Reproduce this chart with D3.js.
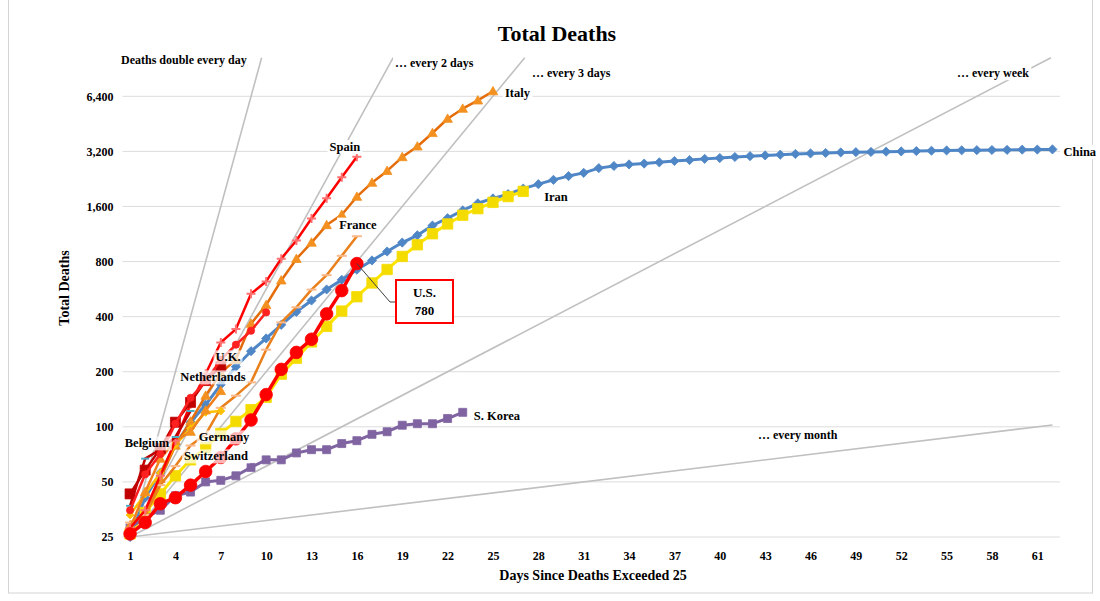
<!DOCTYPE html>
<html>
<head>
<meta charset="utf-8">
<script src="https://cdn.jsdelivr.net/npm/d3@7"></script>
<style>
  body { margin: 0; background: #fff; }
  text { font-family: "Liberation Serif", "Times New Roman", serif; font-weight: bold; fill: #000; }
</style>
</head>
<body>
<svg id="chart" width="1100" height="601"></svg>
<script>
// cumulative deaths, day 1 = first day above 25
const china = [25, 41, 56, 80, 106, 132, 170, 213, 259, 304, 361, 425, 490, 563, 636, 722, 811, 908, 1016, 1113,
  1259, 1380, 1523, 1665, 1770, 1868, 2004, 2118, 2236, 2345, 2442, 2592, 2663, 2715, 2744, 2788, 2835, 2870, 2912, 2943,
  2981, 3013, 3042, 3070, 3097, 3119, 3136, 3158, 3169, 3176, 3189, 3199, 3213, 3226, 3237, 3245, 3248, 3255, 3261, 3270,
  3274, 3281];
const iran = [26, 34, 43, 54, 66, 77, 92, 107, 124, 145, 194, 237, 291, 354, 429, 514, 611, 724, 853, 988,
  1135, 1284, 1433, 1556, 1685, 1812, 1934];
const korea = [28, 32, 35, 42, 44, 50, 51, 54, 60, 66, 66, 72, 75, 75, 81, 84, 91, 94, 102, 104, 104, 111, 120];
const italy = [29, 34, 52, 79, 107, 148, 197, 233, 366, 463, 631, 827, 1016, 1266, 1441, 1809, 2158, 2503, 2978, 3405,
  4032, 4825, 5476, 6077, 6820];
const france = [30, 33, 48, 61, 79, 91, 127, 148, 175, 264, 372, 450, 562, 674, 860, 1100];
const spain = [28, 35, 54, 84, 133, 195, 289, 342, 533, 623, 830, 1043, 1375, 1772, 2311, 2991];
const germany = [28, 44, 67, 84, 94, 123, 157];
const switzerland = [33, 43, 56, 80, 98, 120, 122];
const belgium = [37, 67, 75, 88, 122];
const netherlands = [43, 58, 76, 106, 136, 179, 213];
const uk = [35, 55, 71, 104, 144, 177, 233, 281, 335, 422];
const us = [26, 30, 38, 41, 48, 57, 68, 86, 109, 150, 206, 255, 301, 414, 555, 780];

const xTicks = [1, 4, 7, 10, 13, 16, 19, 22, 25, 28, 31, 34, 37, 40, 43, 46, 49, 52, 55, 58, 61];
const yTicks = [25, 50, 100, 200, 400, 800, 1600, 3200, 6400];

// doubling-time guide lines
const guides = [
  { label: 'Deaths double every day', period: 1 },
  { label: '\u2026 every 2 days', period: 2 },
  { label: '\u2026 every 3 days', period: 3 },
  { label: '\u2026 every week', period: 7 },
  { label: '\u2026 every month', period: 30 }
];
const guideLabelPos = [[121, 60], [395, 63], [532, 73], [957, 73], [758, 435]];

const svg = d3.select('#chart');

const x = d3.scaleLinear().domain([0.5, 62.5]).range([122.5, 1060]);
const y = d3.scaleLog().base(2).domain([25, 10400]).range([537, 57.7]);
const lastDay = 62;

// frame
svg.append('rect').attr('x', 8.5).attr('y', -1).attr('width', 1084).attr('height', 594)
  .attr('fill', 'none').attr('stroke', '#d4d4d4');

// title
svg.append('text').attr('x', 557).attr('y', 41).attr('text-anchor', 'middle')
  .style('font-size', '22px').text('Total Deaths');

// gridlines
svg.append('g').selectAll('line').data(yTicks).join('line')
  .attr('x1', x.range()[0]).attr('x2', x.range()[1])
  .attr('y1', d => y(d)).attr('y2', d => y(d))
  .attr('stroke', '#dcdcdc').attr('stroke-width', 1);

// axes
const yAxis = svg.append('g').attr('transform', `translate(${x.range()[0]},0)`)
  .call(d3.axisLeft(y).tickValues(yTicks).tickFormat(d3.format(',')).tickSize(0).tickPadding(9));
const xAxis = svg.append('g').attr('transform', `translate(0,${y(25)})`)
  .call(d3.axisBottom(x).tickValues(xTicks).tickSize(0).tickPadding(14));
[yAxis, xAxis].forEach(g => {
  g.select('.domain').remove();
  g.selectAll('text').style('font-size', '12px').style('font-family', '"Liberation Serif", serif')
    .style('font-weight', 'bold').attr('fill', '#000');
});

svg.append('text').attr('transform', 'translate(69,288) rotate(-90)').attr('text-anchor', 'middle')
  .style('font-size', '14px').text('Total Deaths');
svg.append('text').attr('x', 593).attr('y', 580).attr('text-anchor', 'middle')
  .style('font-size', '14px').text('Days Since Deaths Exceeded 25');

// guide lines (clipped at the top of the plot)
const yTop = y.domain()[1];
const gGuides = svg.append('g');
guides.forEach(g => {
  const dEnd = Math.min(lastDay, 1 + g.period * Math.log2(yTop / 25));
  const vEnd = 25 * Math.pow(2, (dEnd - 1) / g.period);
  gGuides.append('line')
    .attr('x1', x(1)).attr('y1', y(25)).attr('x2', x(dEnd)).attr('y2', y(vEnd))
    .attr('stroke', '#c0c0c0').attr('stroke-width', 1.6);
});

// marker shapes
const shapes = {
  diamond: r => `M0,${-r}L${r},0L0,${r}L${-r},0Z`,
  square: r => `M${-r},${-r}H${r}V${r}H${-r}Z`,
  triangle: r => `M0,${-r}L${r},${r * 0.75}L${-r},${r * 0.75}Z`,
  circle: r => `M${r},0A${r},${r} 0 1,1 ${-r},0A${r},${r} 0 1,1 ${r},0Z`,
  plus: r => `M${-r},0H${r}M0,${-r}V${r}`,
  dash: r => `M${-r},0H${r}`
};
const stroked = { plus: true, dash: true };

const series = [
  { name: 'China', values: china, color: '#4f86c6', width: 3, marker: 'diamond', mColor: '#4f86c6', r: 4.6 },
  { name: 'Iran', values: iran, color: '#ffe400', width: 3, marker: 'square', mColor: '#f5dc00', r: 5.2 },
  { name: 'S. Korea', values: korea, color: '#8064a2', width: 3, marker: 'square', mColor: '#8064a2', r: 4 },
  { name: 'Italy', values: italy, color: '#e46c0a', width: 2.5, marker: 'triangle', mColor: '#f39020', r: 4.8 },
  { name: 'France', values: france, color: '#e9801c', width: 2.5, marker: 'dash', mColor: '#fab98a', r: 5 },
  { name: 'Switzerland', values: switzerland, color: '#ffc000', width: 2.5, marker: 'diamond', mColor: '#ffc000', r: 4 },
  { name: 'Germany', values: germany, color: '#f07f1e', width: 2.5, marker: 'triangle', mColor: '#f39020', r: 4.8 },
  { name: 'Spain', values: spain, color: '#ff0000', width: 2.5, marker: 'plus', mColor: '#ff7070', r: 4.5 },
  { name: 'Belgium', values: belgium, color: '#c00000', width: 2.5, marker: 'dash', mColor: '#4bacc6', r: 4 },
  { name: 'Netherlands', values: netherlands, color: '#c00000', width: 2.5, marker: 'square', mColor: '#c00000', r: 5 },
  { name: 'U.K.', values: uk, color: '#ff2020', width: 2.5, marker: 'circle', mColor: '#ff2020', r: 3.6 },
  { name: 'U.S.', values: us, color: '#ff0000', width: 3.5, marker: 'circle', mColor: '#ff0000', r: 6.3 }
];

const line = d3.line().x((d, i) => x(i + 1)).y(d => y(d));
const gSeries = svg.append('g');
series.forEach(s => {
  const g = gSeries.append('g');
  g.append('path').datum(s.values).attr('d', line)
    .attr('fill', 'none').attr('stroke', s.color).attr('stroke-width', s.width).attr('stroke-linejoin', 'round');
  g.selectAll('path.m').data(s.values).join('path').attr('class', 'm')
    .attr('transform', (d, i) => `translate(${x(i + 1)},${y(d)})`)
    .attr('d', shapes[s.marker](s.r))
    .attr('fill', stroked[s.marker] ? 'none' : s.mColor)
    .attr('stroke', s.mColor).attr('stroke-width', stroked[s.marker] ? 2 : 0.8);
});

// labels with a white box behind them
function boxedLabel(px, py, txt, anchor, size, opacity) {
  const t = svg.append('text').attr('x', px).attr('y', py).attr('dy', '0.35em')
    .attr('text-anchor', anchor).style('font-size', size + 'px').text(txt);
  const b = t.node().getBBox();
  svg.insert('rect', () => t.node())
    .attr('x', b.x - 2).attr('y', b.y).attr('width', b.width + 4).attr('height', b.height)
    .attr('fill', '#fff').attr('opacity', opacity);
}

guides.forEach((g, i) => boxedLabel(guideLabelPos[i][0], guideLabelPos[i][1], g.label, 'start', 12, 1));

const byName = Object.fromEntries(series.map(s => [s.name, s]));
const endOf = name => {
  const v = byName[name].values;
  return [x(v.length), y(v[v.length - 1])];
};
// labels next to the last point
[
  ['Spain', -12, -10, 'middle'], ['Italy', 12, 1, 'start'], ['China', 11, 2, 'start'],
  ['Iran', 21, 5, 'start'], ['France', 1, -12, 'middle'], ['S. Korea', 11, 3, 'start']
].forEach(([n, dx, dy, a]) => {
  const [px, py] = endOf(n);
  boxedLabel(px + dx, py + dy, n, a, 12.5, 1);
});
// labels inside the crowded corner
[
  ['U.K.', 228, 357], ['Netherlands', 213, 377], ['Belgium', 147, 443],
  ['Germany', 224, 437], ['Switzerland', 216, 456]
].forEach(([n, px, py]) => boxedLabel(px, py, n, 'middle', 12.5, 0.7));

// U.S. callout
const [ux, uy] = endOf('U.S.');
svg.append('path').attr('d', `M${ux},${uy}L390,302H396`).attr('fill', 'none')
  .attr('stroke', '#404040').attr('stroke-width', 1);
svg.append('rect').attr('x', 396).attr('y', 280).attr('width', 57).attr('height', 43)
  .attr('fill', '#fff').attr('stroke', '#ff0000').attr('stroke-width', 2);
svg.append('text').attr('x', 424.5).attr('y', 297).attr('text-anchor', 'middle').style('font-size', '13px').text('U.S.');
svg.append('text').attr('x', 424.5).attr('y', 315).attr('text-anchor', 'middle').style('font-size', '13px').text(us[us.length - 1]);
</script>
</body>
</html>
